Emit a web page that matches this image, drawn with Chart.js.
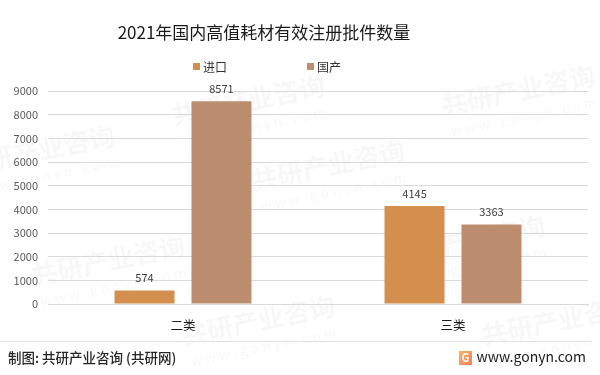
<!DOCTYPE html>
<html>
<head>
<meta charset="utf-8">
<script src="https://cdn.jsdelivr.net/npm/chart.js@4"></script>
<style>
  html, body { margin: 0; padding: 0; background: #fff; }
  #wrap { width: 600px; height: 375px; }
</style>
</head>
<body>
<div id="wrap"><canvas id="chart" width="600" height="375"></canvas></div>
<script>
    const categories = ['二类', '三类'];
    const imported = [574, 4145];
    const domestic = [8571, 3363];
    const yTicks = [0, 1000, 2000, 3000, 4000, 5000, 6000, 7000, 8000, 9000];

    const FONT = '"Noto Sans CJK SC", "Noto Sans", sans-serif';

    // title, legend, value labels and footer
    const decor = {
        id: 'decor',
        beforeDraw(chart) {
            const ctx = chart.ctx;
            ctx.save();
            ctx.fillStyle = 'rgba(0,0,0,0.03)';
            const spots = [[40, 160], [250, 110], [520, 100], [330, 175], [110, 270], [470, 250], [260, 330], [560, 330]];
            spots.forEach(p => {
                ctx.save();
                ctx.translate(p[0], p[1]);
                ctx.rotate(-0.2);
                ctx.textAlign = 'center';
                ctx.font = 'bold 26px ' + FONT;
                ctx.fillText('共研产业咨询', 0, 0);
                ctx.font = '14px ' + FONT;
                ctx.fillText('w w w . g o n y n . c o m', 0, 22);
                ctx.restore();
            });
            ctx.restore();
        },
        afterDatasetsDraw(chart) {
            const ctx = chart.ctx;
            ctx.save();
            ctx.font = '11px ' + FONT;
            ctx.fillStyle = '#404040';
            ctx.textAlign = 'center';
            ctx.textBaseline = 'bottom';
            chart.data.datasets.forEach((ds, i) => {
                chart.getDatasetMeta(i).data.forEach((bar, j) => {
                    ctx.fillText(ds.data[j], bar.x, bar.y - 7);
                });
            });
            ctx.restore();
        },
        afterDraw(chart) {
            const ctx = chart.ctx;
            ctx.save();
            // title
            ctx.font = '17px ' + FONT;
            ctx.fillStyle = '#1a1a1a';
            ctx.textAlign = 'center';
            ctx.textBaseline = 'middle';
            ctx.fillText('2021年国内高值耗材有效注册批件数量', 264, 33);

            // legend
            ctx.font = '12px ' + FONT;
            ctx.textAlign = 'left';
            const legendX = [193, 307];
            chart.data.datasets.forEach((ds, i) => {
                ctx.fillStyle = ds.backgroundColor;
                ctx.fillRect(legendX[i], 63, 7, 7);
                ctx.fillStyle = '#333';
                ctx.fillText(ds.label, legendX[i] + 10, 67);
            });

            // footer
            ctx.strokeStyle = '#e0e0e0';
            ctx.lineWidth = 1;
            ctx.beginPath();
            ctx.moveTo(0, 341.5);
            ctx.lineTo(592, 341.5);
            ctx.stroke();
            ctx.fillStyle = '#262626';
            ctx.font = '500 13.5px ' + FONT;
            ctx.fillText('制图: 共研产业咨询 (共研网)', 8, 358);
            ctx.font = '14px ' + FONT;
            ctx.textAlign = 'right';
            ctx.fillStyle = '#1a1a1a';
            ctx.fillText('www.gonyn.com', 586, 357);
            const g = ctx.createLinearGradient(459, 352, 473, 366);
            g.addColorStop(0, '#f9b26a');
            g.addColorStop(1, '#f27a52');
            ctx.fillStyle = g;
            ctx.fillRect(459, 351, 13, 14);
            ctx.fillStyle = '#fff';
            ctx.font = 'bold 11px ' + FONT;
            ctx.textAlign = 'center';
            ctx.fillText('G', 465.5, 358);
            ctx.restore();
        }
    };

    new Chart(document.getElementById('chart'), {
        type: 'bar',
        data: {
            labels: categories,
            datasets: [
                { label: '进口', data: imported, backgroundColor: '#D48F4F' },
                { label: '国产', data: domestic, backgroundColor: '#BC8D6F' }
            ]
        },
        options: {
            responsive: false,
            animation: false,
            layout: { padding: { top: 91, bottom: 41, left: 0, right: 12 } },
            categoryPercentage: 0.57,
            barPercentage: 0.78,
            plugins: {
                legend: { display: false },
                title: { display: false },
                tooltip: { enabled: false }
            },
            scales: {
                x: {
                    grid: { display: false },
                    border: { color: '#d9d9d9' },
                    ticks: { color: '#1a1a1a', font: { family: FONT, size: 12.5 }, padding: 6 },
                    afterFit(s) { s.height = 30; }
                },
                y: {
                    min: 0,
                    max: 9000,
                    afterBuildTicks(s) { s.ticks = yTicks.map(v => ({ value: v })); },
                    grid: { color: '#d9d9d9', drawTicks: false },
                    border: { display: false },
                    ticks: {
                        color: '#595959',
                        font: { family: FONT, size: 11 },
                        padding: 10,
                        callback: v => String(v)
                    },
                    afterFit(s) { s.width = 48; }
                }
            }
        },
        plugins: [decor]
    });
</script>
</body>
</html>
